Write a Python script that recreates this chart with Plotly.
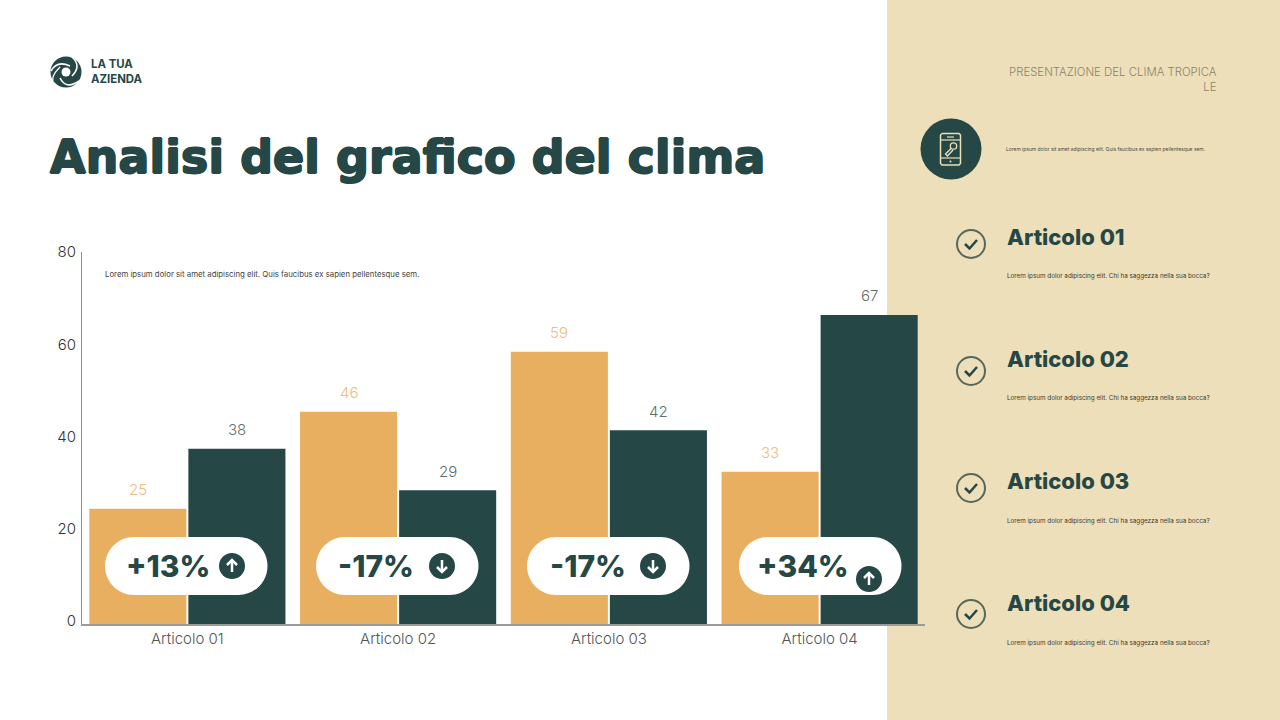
import plotly.graph_objects as go

W = 1280
H = 720

categories = ["Articolo 01", "Articolo 02", "Articolo 03", "Articolo 04"]
serie_a = [25, 46, 59, 33]
serie_b = [38, 29, 42, 67]
y_ticks = [0, 20, 40, 60, 80]
badge_labels = ["+13%", "-17%", "-17%", "+34%"]
badge_up = [True, False, False, True]
side_titles = ["Articolo 01", "Articolo 02", "Articolo 03", "Articolo 04"]
side_text = "Lorem ipsum dolor adipiscing elit. Chi ha saggezza nella sua bocca?"

DARK = "#254746"
ORANGE = "#E9AF60"
PANEL = "#EDDFB9"
FONT = "Inter"

def px(x):
    return x / W

def py(y):
    return 1 - y / H

def pt(x, y):
    return f"{px(x):.5f},{py(y):.5f}"

def text(x, y, s, size, color=DARK, weight=400, anchor="left", family=FONT, shadow="none"):
    fig.add_annotation(xref="paper", yref="paper", x=px(x), y=py(y), text=s, showarrow=False,
                       xanchor=anchor, yanchor="middle", align=anchor,
                       font=dict(family=family, size=size, color=color, weight=weight, shadow=shadow))

def circle(cx, cy, r, fill=DARK, line=None, width=0):
    fig.add_shape(type="circle", xref="paper", yref="paper", x0=px(cx - r), x1=px(cx + r),
                  y0=py(cy + r), y1=py(cy - r), fillcolor=fill, line=dict(color=line, width=width))

def stroke(points, color="white", width=2):
    d = "M" + " L".join(pt(x, y) for x, y in points)
    fig.add_shape(type="path", xref="paper", yref="paper", path=d, line=dict(color=color, width=width))

def curve(a, c, b, color="white", width=2):
    d = f"M{pt(*a)} Q{pt(*c)} {pt(*b)}"
    fig.add_shape(type="path", xref="paper", yref="paper", path=d, line=dict(color=color, width=width))

def pill(x0, x1, y0, y1):
    r = (y1 - y0) / 2
    k = r * 0.448
    d = (f"M{pt(x0 + r, y0)} L{pt(x1 - r, y0)} "
         f"C{pt(x1 - k, y0)} {pt(x1, y0 + k)} {pt(x1, y0 + r)} "
         f"C{pt(x1, y1 - k)} {pt(x1 - k, y1)} {pt(x1 - r, y1)} "
         f"L{pt(x0 + r, y1)} "
         f"C{pt(x0 + k, y1)} {pt(x0, y1 - k)} {pt(x0, y1 - r)} "
         f"C{pt(x0, y0 + k)} {pt(x0 + k, y0)} {pt(x0 + r, y0)} Z")
    fig.add_shape(type="path", xref="paper", yref="paper", path=d, fillcolor="white", line=dict(width=0))

fig = go.Figure()
fig.add_trace(go.Bar(x=categories, y=serie_a, marker=dict(color=ORANGE, line=dict(width=0))))
fig.add_trace(go.Bar(x=categories, y=serie_b, marker=dict(color=DARK, line=dict(width=0))))

fig.update_layout(
    width=W, height=H, autosize=False, margin=dict(l=0, r=0, t=0, b=0),
    paper_bgcolor="white", plot_bgcolor="rgba(0,0,0,0)", showlegend=False,
    barmode="group", bargap=0.06, bargroupgap=0.02,
    font=dict(family=FONT),
    xaxis=dict(domain=[px(82), px(925)], range=[-0.5, 3.5], showgrid=False, showline=True,
               linecolor="#9a9a98", linewidth=2, ticks="", automargin=False,
               tickfont=dict(size=15, color="#555", weight=300), anchor="y"),
    yaxis=dict(domain=[py(624), py(252)], range=[0, 80.65], tickvals=y_ticks, showgrid=False,
               zeroline=False, showline=True, linecolor="#8d8d8d", linewidth=1, ticks="",
               automargin=False, tickfont=dict(size=15, color="#333", weight=300),
               ticklabelshift=-3, ticklabelstandoff=2),
)

fig.add_shape(type="rect", xref="paper", yref="paper", x0=px(887), x1=1, y0=0, y1=1,
              fillcolor=PANEL, line=dict(width=0), layer="below")

# etichette sopra le barre
for cat, a, b in zip(categories, serie_a, serie_b):
    fig.add_annotation(x=cat, y=a, xshift=-49.5, yshift=19, text=str(a), showarrow=False,
                       font=dict(size=15, color="#EDBD7E", weight=300))
    fig.add_annotation(x=cat, y=b, xshift=49.5, yshift=19, text=str(b), showarrow=False,
                       font=dict(size=15, color="#5F6F6E", weight=300))

# pillole
pill_left = [105, 316, 527, 739]
label_x = [168, 376, 588, 803]
icon_xy = [(232, 566), (442, 566), (653, 566), (869, 579)]
for i, lab in enumerate(badge_labels):
    pill(pill_left[i], pill_left[i] + 162.5, 537, 595)
    text(label_x[i], 566, lab, 30, weight=800, anchor="center")
    cx, cy = icon_xy[i]
    circle(cx, cy, 13)
    s = -1 if badge_up[i] else 1
    stroke([(cx, cy - 6 * s), (cx, cy + 6 * s)], width=2.5)
    stroke([(cx - 5, cy + s), (cx, cy + 6 * s), (cx + 5, cy + s)], width=2.5)

# testata
circle(66, 72, 15.5)
circle(66, 72, 4.5, fill="white")
curve((51, 71), (57, 60), (70, 66), width=1.6)
curve((72, 57), (82, 66), (72, 76), width=1.6)
curve((79, 81), (66, 90), (60, 78), width=1.6)
curve((53, 81), (51, 76), (60, 67), width=1.2)
text(89, 72, "LA TUA<br>AZIENDA", 11.4, weight=700)
text(47.5, 157, "Analisi del grafico del clima", 46, weight=700, family="DejaVu Sans",
     shadow=f"0.9px 0 0 {DARK}, -0.9px 0 0 {DARK}, 0 0.7px 0 {DARK}, 0 -0.7px 0 {DARK}")
text(103, 274, "Lorem ipsum dolor sit amet adipiscing elit. Quis faucibus ex sapien pellentesque sem.", 7.8, color="#444")

# pannello destro
text(1219, 79, "PRESENTAZIONE DEL CLIMA TROPICA<br>LE", 11.4, color="#8C8269", weight=300, anchor="right")
circle(951, 149, 30.5)
text(1004, 149, "Lorem ipsum dolor sit amet adipiscing elit. Quis faucibus ex sapien pellentesque sem.", 4.95, color="#4a4a40")
stroke([(942, 133.5), (959, 133.5), (960.5, 135), (960.5, 163.5), (959, 165), (942, 165), (940.5, 163.5), (940.5, 135), (942, 133.5)], color=PANEL, width=1.5)
stroke([(940.5, 140), (960.5, 140)], color=PANEL, width=1.2)
stroke([(940.5, 158), (960.5, 158)], color=PANEL, width=1.2)
stroke([(947, 137), (954, 137)], color=PANEL, width=1.2)
circle(950.5, 161.5, 1, fill=PANEL)
circle(953.5, 146, 3.2, fill="rgba(0,0,0,0)", line=PANEL, width=1.3)
stroke([(951, 148.5), (945.5, 154), (947.5, 156), (953, 150)], color=PANEL, width=1.3)

check_y = [244, 371, 488, 614]
title_y = [237, 359, 481, 603]
small_y = [276, 398, 521, 643]
for i, t in enumerate(side_titles):
    circle(971, check_y[i], 14, fill="rgba(0,0,0,0)", line="#56685C", width=2)
    y = check_y[i]
    stroke([(965, y), (969.5, y + 4.5), (977, y - 4)], color=DARK, width=2.5)
    text(1005, title_y[i], t, 22, weight=800)
    text(1005, small_y[i], side_text, 6.3, color="#3a3a32")

fig.write_html("out.html", config=dict(displayModeBar=False),
               post_script="document.body.style.margin='0';document.body.style.overflow='hidden';")
